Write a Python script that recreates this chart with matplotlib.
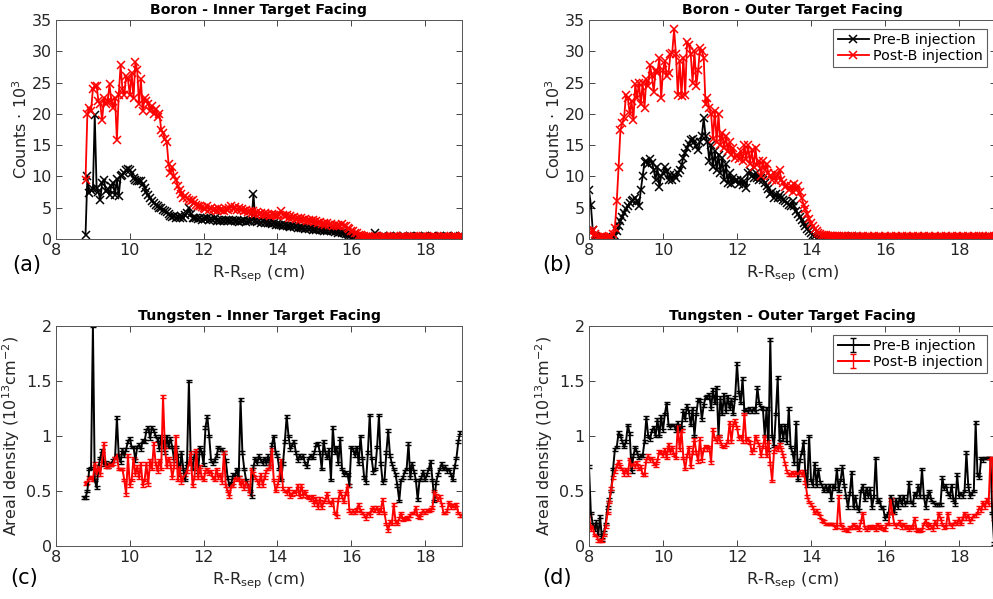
import numpy as np
import matplotlib
matplotlib.use("Agg")
import matplotlib.pyplot as plt

# ---------------- data ----------------
step = 0.05

# Panel (a): Boron - Inner Target Facing (counts x 10^3), x starts at 8.8
a_start = 8.8
a_pre = [0.7, 10.0, 7.3, 7.8, 8.0, 19.8, 8.2, 7.5, 6.2, 9.0,
         9.5, 7.6, 8.0, 7.0, 8.5, 9.0, 7.0, 9.6, 6.8, 10.0,
         10.2, 10.6, 11.0, 11.2, 11.0, 10.5, 9.8, 9.5, 9.2, 9.3,
         9.2, 8.8, 8.2, 7.5, 7.0, 6.5, 6.0, 5.8, 5.5, 5.3,
         5.0, 4.9, 4.6, 4.5, 4.3, 4.0, 3.7, 3.5, 3.6, 3.4,
         3.5, 3.4, 3.6, 3.3, 3.8, 4.2, 5.0, 4.0, 3.4, 3.3,
         3.3, 3.2, 3.4, 3.1, 3.3, 3.2, 3.4, 3.0, 3.2, 3.1,
         3.3, 2.9, 3.1, 2.8, 3.0, 2.9, 3.1, 2.8, 3.0, 2.9,
         3.1, 2.8, 2.9, 2.7, 2.9, 2.8, 3.0, 2.7, 2.9, 2.8,
         3.0, 7.2, 2.9, 2.7, 2.8, 2.6, 2.8, 2.6, 2.7, 2.5,
         2.6, 2.4, 2.5, 2.3, 2.4, 2.2, 2.3, 2.1, 2.2, 2.0,
         2.1, 1.9, 2.0, 1.9, 2.0, 1.8, 1.9, 1.7, 1.8, 1.6,
         1.7, 1.6, 1.7, 1.5, 1.6, 1.5, 1.6, 1.4, 1.5, 1.3,
         1.4, 1.3, 1.4, 1.2, 1.3, 1.1, 1.2, 1.0, 1.1, 0.9,
         1.0, 0.8, 0.8, 0.6, 0.6, 0.5, 0.4, 0.3, 0.2, 0.15,
         0.1, 0.1, 0.05, 0.1, 0.1, 0.2, 0.3, 1.0, 0.4, 0.3,
         0.2, 0.4, 0.3, 0.2, 0.3, 0.4, 0.2, 0.3, 0.3, 0.4,
         0.2, 0.3, 0.4, 0.3, 0.2, 0.3, 0.4, 0.3, 0.2, 0.3,
         0.4, 0.3, 0.3, 0.2, 0.4, 0.3, 0.2, 0.3, 0.4, 0.3,
         0.2, 0.3, 0.4, 0.3, 0.3, 0.2, 0.4, 0.3, 0.2, 0.3,
         0.4, 0.3, 0.3, 0.4, 0.3]
a_post = [9.5, 20.0, 21.0, 20.5, 24.0, 24.5, 24.5, 22.0, 21.5, 19.0,
          22.5, 21.5, 22.0, 24.7, 22.0, 21.0, 22.5, 15.8, 23.0, 27.8,
          24.0, 23.0, 26.0, 25.5, 23.0, 26.5, 22.5, 28.3, 27.0, 21.5,
          25.5, 20.5, 22.5, 22.0, 21.5, 20.5, 21.2, 20.0, 20.8, 19.5,
          20.0, 17.5, 17.0, 16.0, 15.5, 12.0, 10.5, 11.5, 10.0, 9.5,
          8.5, 7.8, 7.2, 6.5, 6.8, 6.5, 6.3, 6.0, 6.2, 5.8,
          5.5, 5.3, 5.2, 5.1, 5.0, 4.8, 5.2, 4.7, 4.9, 4.6,
          4.8, 4.5, 4.9, 4.6, 4.7, 4.5, 4.8, 4.6, 5.0, 5.3,
          4.8, 5.1, 4.7, 4.9, 4.6, 4.8, 4.4, 4.6, 4.3, 4.5,
          4.2, 4.4, 4.0, 4.3, 4.0, 4.2, 3.9, 4.1, 3.8, 4.0,
          3.7, 4.0, 3.8, 3.9, 3.6, 3.9, 4.4, 3.8, 3.6, 3.8,
          3.4, 3.6, 3.3, 3.5, 3.2, 3.4, 3.1, 3.3, 3.0, 3.2,
          2.9, 3.1, 2.8, 3.0, 2.7, 2.9, 2.6, 2.7, 2.4, 2.6,
          2.3, 2.5, 2.2, 2.4, 2.1, 2.3, 2.0, 2.3, 2.1, 2.4,
          2.0, 2.1, 1.7, 1.6, 1.3, 1.2, 0.9, 0.9, 0.6, 0.6,
          0.4, 0.4, 0.3, 0.3, 0.3, 0.2, 0.3, 0.4, 0.3, 0.2,
          0.3, 0.3, 0.4, 0.3, 0.2, 0.3, 0.3, 0.4, 0.3, 0.3,
          0.2, 0.3, 0.4, 0.3, 0.3, 0.2, 0.3, 0.3, 0.4, 0.3,
          0.3, 0.2, 0.3, 0.4, 0.3, 0.3, 0.2, 0.3, 0.3, 0.4,
          0.3, 0.3, 0.2, 0.3, 0.4, 0.3, 0.3, 0.2, 0.3, 0.3,
          0.4, 0.3, 0.3, 0.3, 0.4]

# Panel (b): Boron - Outer Target Facing, x starts at 8.0
b_start = 8.0
b_pre = [7.8, 5.5, 1.5, 0.5, 0.3, 0.2, 0.2, 0.1, 0.2, 0.1,
         0.2, 0.1, 0.2, 0.3, 0.5, 1.2, 2.0, 2.8, 3.5, 4.2,
         4.8, 5.2, 5.8, 6.0, 6.3, 6.5, 6.0, 5.2, 7.8, 10.0,
         12.3, 12.5, 12.0, 12.8, 12.2, 11.0, 9.5, 11.5, 8.3, 10.0,
         10.5, 11.5, 10.8, 9.5, 10.2, 9.5, 10.2, 9.8, 10.5, 11.0,
         11.8, 13.0, 13.8, 14.5, 15.2, 15.8, 16.0, 15.5, 14.8, 14.2,
         15.5, 16.5, 19.3, 16.5, 15.5, 12.5, 15.0, 11.5, 14.0, 11.0,
         13.5, 10.5, 13.0, 9.5, 12.0, 9.0, 10.5, 8.8, 9.8, 9.2,
         9.5, 8.8, 9.5, 8.7, 9.2, 8.2, 10.5, 10.8, 10.0, 9.8,
         10.5, 9.8, 9.5, 9.8, 9.5, 9.0, 8.5, 8.0, 7.2, 7.5,
         6.5, 7.2, 6.5, 7.0, 6.5, 6.3, 6.0, 5.8, 5.5, 5.2,
         6.0, 5.2, 4.5, 4.0, 3.5, 3.0, 2.5, 2.0, 1.6, 1.2,
         0.9, 0.7, 0.4, 0.2, 0.1, 0.1, 0.05, 0.05, 0.1, 0.1,
         0.1, 0.15, 0.1, 0.2, 0.15, 0.2, 0.2, 0.25, 0.2, 0.3,
         0.3, 0.3, 0.5, 0.3, 0.3, 0.2, 0.3, 0.2, 0.3, 0.2,
         0.2, 0.3, 0.2, 0.2, 0.3, 0.2, 0.2, 0.3, 0.2, 0.2,
         0.3, 0.2, 0.2, 0.3, 0.2, 0.2, 0.3, 0.2, 0.2, 0.3,
         0.2, 0.2, 0.3, 0.2, 0.2, 0.3, 0.2, 0.2, 0.3, 0.2,
         0.2, 0.3, 0.2, 0.2, 0.3, 0.2, 0.2, 0.3, 0.2, 0.2,
         0.3, 0.2, 0.2, 0.3, 0.2, 0.2, 0.3, 0.2, 0.2, 0.3,
         0.2, 0.2, 0.3, 0.2, 0.2, 0.3, 0.2, 0.2, 0.3, 0.2,
         0.2, 0.3, 0.2, 0.3, 0.2, 0.2, 0.3, 0.2, 0.3, 0.2,
         0.3]
b_post = [1.3, 1.0, 1.5, 0.8, 0.5, 0.3, 0.3, 0.2, 0.3, 0.2,
          0.3, 0.4, 0.3, 0.8, 1.8, 6.0, 11.5, 17.5, 18.5, 19.5,
          23.0, 22.5, 20.0, 22.0, 19.0, 24.8, 22.5, 25.0, 21.5, 25.0,
          21.0, 25.5, 24.5, 27.8, 26.0, 23.5, 27.0, 26.5, 29.0, 22.5,
          27.0, 28.5, 26.0, 26.5, 29.5, 29.8, 33.5, 29.5, 23.0, 28.5,
          22.8, 29.0, 23.0, 31.5, 31.0, 29.5, 25.0, 30.0, 24.5, 27.0,
          30.5, 30.0, 29.0, 21.5, 22.5, 21.0, 20.0, 16.0, 20.5, 15.5,
          20.0, 15.0, 17.0, 14.5, 16.5, 14.0, 15.5, 13.5, 14.5, 13.0,
          13.5, 12.8, 14.0, 12.5, 15.0, 12.8, 15.0, 12.0, 14.2, 11.5,
          14.5, 11.8, 12.5, 10.0, 12.5, 11.0, 12.0, 10.5, 10.0, 9.5,
          10.5, 9.3, 10.2, 11.0, 9.5, 9.0, 8.3, 8.7, 7.8, 8.5,
          7.5, 8.8, 7.8, 8.5, 7.5, 6.5, 5.5, 4.8, 4.0, 3.2,
          2.5, 2.0, 1.6, 1.3, 1.0, 0.8, 0.7, 0.6, 0.6, 0.5,
          0.5, 0.5, 0.4, 0.5, 0.4, 0.4, 0.3, 0.4, 0.4, 0.3,
          0.4, 0.3, 0.4, 0.3, 0.3, 0.4, 0.3, 0.3, 0.4, 0.3,
          0.3, 0.4, 0.3, 0.3, 0.4, 0.3, 0.3, 0.4, 0.3, 0.3,
          0.4, 0.3, 0.3, 0.4, 0.3, 0.3, 0.4, 0.3, 0.3, 0.4,
          0.3, 0.3, 0.4, 0.3, 0.3, 0.4, 0.3, 0.3, 0.4, 0.3,
          0.3, 0.4, 0.3, 0.3, 0.4, 0.3, 0.3, 0.4, 0.3, 0.3,
          0.4, 0.3, 0.3, 0.4, 0.3, 0.3, 0.4, 0.3, 0.3, 0.4,
          0.3, 0.3, 0.4, 0.3, 0.3, 0.4, 0.3, 0.3, 0.4, 0.3,
          0.3, 0.4, 0.3, 0.4, 0.3, 0.3, 0.4, 0.3, 0.3, 0.4,
          0.3]

# Panel (c): Tungsten - Inner Target Facing (10^13 cm^-2)
c_pre_start = 8.75
c_pre = [0.44, 0.44, 0.50, 0.70, 0.71, 2.00, 0.60, 0.53, 0.72, 0.80,
         0.87, 0.74, 0.76, 0.72, 0.74, 0.75, 0.78, 0.80, 1.17, 0.82,
         0.76, 0.88, 0.82, 0.88, 0.95, 0.98, 0.90, 0.90, 0.78, 0.90,
         0.92, 0.88, 0.96, 0.95, 1.05, 1.08, 0.98, 1.08, 1.05, 1.00,
         0.97, 0.88, 1.00, 0.95, 0.85, 1.00, 0.90, 0.98, 0.90, 0.78,
         0.90, 0.82, 0.65, 0.85, 0.70, 0.60, 0.75, 1.50, 0.80, 0.70,
         0.82, 0.85, 0.68, 0.90, 0.85, 0.74, 1.08, 1.18, 1.00, 0.78,
         0.75, 0.78, 0.82, 0.90, 0.88, 0.88, 0.85, 0.78, 0.62, 0.55,
         0.57, 0.65, 0.63, 0.70, 0.62, 1.33, 0.85, 0.70, 0.60, 0.55,
         0.50, 0.45, 0.72, 0.80, 0.75, 0.82, 0.78, 0.75, 0.80, 0.75,
         0.82, 0.72, 0.92, 1.00, 0.85, 0.82, 0.70, 0.60, 0.75, 0.95,
         1.18, 1.00, 0.88, 0.92, 0.95, 0.85, 0.78, 0.82, 0.80, 0.82,
         0.75, 0.72, 0.80, 0.82, 0.80, 0.85, 0.92, 0.93, 0.85, 0.70,
         0.95, 0.85, 0.80, 0.88, 0.60, 1.08, 0.85, 0.90, 0.75, 0.98,
         0.70, 0.65, 0.67, 0.65, 0.55, 0.90, 0.88, 0.82, 0.90, 0.75,
         1.00, 0.80, 0.62, 0.58, 0.85, 1.19, 0.80, 0.67, 0.70, 0.90,
         1.19, 0.75, 0.58, 0.60, 0.85, 1.05, 0.82, 0.75, 0.70, 0.65,
         0.55, 0.41, 0.60, 0.62, 0.68, 0.70, 0.93, 0.62, 0.75, 0.68,
         0.60, 0.42, 0.60, 0.62, 0.68, 0.60, 0.65, 0.70, 0.77, 0.60,
         0.41, 0.58, 0.65, 0.70, 0.75, 0.70, 0.72, 0.68, 0.70, 0.65,
         0.60, 0.72, 0.80, 0.95, 1.03]
c_post_start = 8.8
c_post = [0.57, 0.58, 0.62, 0.62, 0.60, 0.75, 0.65, 0.72, 0.65, 0.78,
          0.93, 0.72, 0.72, 0.74, 0.74, 0.75, 0.80, 0.82, 0.70, 0.70,
          0.70, 0.60, 0.47, 0.82, 0.55, 0.60, 0.80, 0.65, 0.72, 0.62,
          0.75, 0.55, 0.60, 0.75, 0.56, 0.78, 0.70, 0.93, 0.75, 0.68,
          0.78, 0.70, 1.36, 0.90, 0.72, 0.80, 0.75, 0.62, 0.72, 1.00,
          0.60, 0.72, 0.58, 0.62, 0.65, 0.68, 0.75, 0.85, 0.55, 0.62,
          0.87, 0.62, 0.72, 0.62, 0.60, 0.68, 0.70, 0.66, 0.68, 0.62,
          0.60, 0.70, 0.62, 0.65, 0.58, 0.85, 0.55, 0.50, 0.45, 0.55,
          0.55, 0.62, 0.60, 0.62, 0.55, 0.60, 0.52, 0.58, 0.55, 0.48,
          0.70, 0.66, 0.62, 0.60, 0.55, 0.65, 0.55, 0.62, 0.68, 0.70,
          0.72, 0.88, 0.60, 0.50, 0.55, 0.62, 0.78, 0.52, 0.50, 0.48,
          0.52, 0.45, 0.47, 0.50, 0.48, 0.55, 0.45, 0.55, 0.46, 0.50,
          0.45, 0.44, 0.42, 0.45, 0.38, 0.43, 0.35, 0.43, 0.35, 0.40,
          0.42, 0.48, 0.40, 0.38, 0.42, 0.30, 0.27, 0.42, 0.50, 0.45,
          0.40, 0.48, 0.55, 0.32, 0.30, 0.32, 0.30, 0.33, 0.38, 0.32,
          0.30, 0.28, 0.25, 0.30, 0.28, 0.33, 0.35, 0.32, 0.35, 0.30,
          0.33, 0.42, 0.30, 0.20, 0.14, 0.22, 0.20, 0.38, 0.22, 0.20,
          0.25, 0.30, 0.24, 0.25, 0.26, 0.25, 0.28, 0.30, 0.30, 0.35,
          0.27, 0.26, 0.30, 0.32, 0.30, 0.32, 0.32, 0.33, 0.35, 0.50,
          0.46, 0.42, 0.45, 0.38, 0.30, 0.30, 0.32, 0.40, 0.35, 0.37,
          0.35, 0.38, 0.30, 0.28, 0.28]

# Panel (d): Tungsten - Outer Target Facing, x starts at 8.0
d_start = 8.0
d_pre = [0.72, 0.30, 0.20, 0.15, 0.22, 0.10, 0.27, 0.06, 0.12, 0.20,
         0.35, 0.42, 0.50, 0.70, 0.88, 0.90, 1.03, 1.00, 0.95, 0.90,
         0.95, 1.10, 1.02, 0.68, 0.82, 0.90, 0.85, 0.80, 0.82, 0.82,
         0.95, 1.17, 1.00, 0.97, 1.05, 1.08, 1.00, 1.15, 1.00, 1.18,
         1.05, 1.20, 1.30, 1.10, 1.08, 1.10, 1.10, 1.05, 1.12, 1.05,
         1.08, 1.23, 1.15, 1.28, 1.22, 1.10, 1.25, 1.00, 1.20, 1.33,
         1.32, 1.15, 1.28, 1.35, 1.36, 1.38, 1.25, 1.42, 1.30, 1.44,
         1.00, 1.35, 1.20, 1.38, 1.22, 1.36, 1.25, 1.33, 1.20, 1.35,
         1.66, 1.40, 1.30, 1.52, 1.22, 1.24, 1.22, 1.25, 1.22, 1.25,
         1.22, 1.44, 1.30, 1.26, 1.25, 1.00, 1.25, 0.88, 1.88, 1.00,
         0.91, 1.20, 1.53, 0.95, 1.10, 0.97, 1.10, 0.94, 1.25, 0.90,
         0.85, 0.75, 1.12, 0.60, 0.78, 0.85, 0.95, 0.65, 0.55, 1.00,
         0.60, 0.55, 0.75, 0.55, 0.70, 0.58, 0.55, 0.50, 0.55, 0.50,
         0.55, 0.42, 0.55, 0.52, 0.70, 0.50, 0.60, 0.72, 0.55, 0.45,
         0.35, 0.48, 0.67, 0.35, 0.45, 0.35, 0.32, 0.50, 0.55, 0.42,
         0.52, 0.45, 0.52, 0.35, 0.45, 0.80, 0.40, 0.42, 0.35, 0.35,
         0.25, 0.28, 0.30, 0.45, 0.42, 0.30, 0.42, 0.35, 0.45, 0.38,
         0.45, 0.38, 0.40, 0.58, 0.40, 0.38, 0.48, 0.45, 0.55, 0.45,
         0.70, 0.45, 0.35, 0.45, 0.50, 0.42, 0.40, 0.38, 0.38, 0.38,
         0.38, 0.62, 0.52, 0.55, 0.48, 0.45, 0.55, 0.42, 0.38, 0.65,
         0.45, 0.48, 0.45, 0.50, 0.85, 0.55, 0.45, 0.48, 0.50, 1.12,
         0.65, 0.62, 0.80, 0.78, 0.80, 0.80, 0.80, 0.80, 0.30, 0.02]
d_post = [0.28, 0.15, 0.18, 0.10, 0.10, 0.05, 0.05, 0.05, 0.10, 0.18,
          0.30, 0.40, 0.52, 0.62, 0.68, 0.73, 0.77, 0.72, 0.70, 0.65,
          0.70, 0.65, 0.79, 0.72, 0.75, 0.72, 0.76, 0.70, 0.72, 0.65,
          0.65, 0.78, 0.82, 0.78, 0.80, 0.75, 0.73, 0.78, 0.86, 0.85,
          0.82, 0.88, 0.80, 0.92, 0.85, 0.90, 0.83, 0.80, 1.09, 0.88,
          1.05, 0.80, 0.70, 0.82, 0.90, 0.72, 0.85, 0.97, 0.85, 0.77,
          0.98, 0.78, 0.88, 0.91, 0.88, 0.90, 0.76, 1.06, 0.98, 0.95,
          1.00, 0.95, 0.91, 0.90, 0.92, 0.95, 1.12, 0.95, 1.10, 1.14,
          1.08, 0.98, 1.00, 0.95, 1.20, 0.95, 0.98, 0.94, 0.85, 0.88,
          1.00, 0.95, 0.92, 0.82, 0.90, 1.00, 0.82, 0.95, 0.75, 0.59,
          0.86, 0.90, 0.88, 0.92, 0.88, 0.82, 0.75, 0.68, 0.65, 0.65,
          0.67, 0.65, 0.67, 0.65, 0.68, 0.65, 0.68, 0.58, 0.45, 0.40,
          0.38, 0.35, 0.30, 0.32, 0.30, 0.27, 0.23, 0.22, 0.20, 0.20,
          0.20, 0.20, 0.20, 0.17, 0.18, 0.45, 0.20, 0.17, 0.15, 0.15,
          0.14, 0.17, 0.17, 0.20, 0.18, 0.17, 0.15, 0.22, 0.30, 0.17,
          0.15, 0.17, 0.18, 0.17, 0.18, 0.15, 0.20, 0.17, 0.18, 0.16,
          0.15, 0.20, 0.20, 0.42, 0.30, 0.20, 0.18, 0.20, 0.22, 0.17,
          0.20, 0.17, 0.18, 0.15, 0.17, 0.18, 0.25, 0.15, 0.14, 0.14,
          0.15, 0.20, 0.23, 0.17, 0.20, 0.18, 0.15, 0.22, 0.18, 0.30,
          0.25, 0.20, 0.17, 0.18, 0.30, 0.20, 0.18, 0.20, 0.22, 0.20,
          0.25, 0.20, 0.25, 0.30, 0.25, 0.28, 0.22, 0.25, 0.28, 0.28,
          0.30, 0.35, 0.32, 0.40, 0.35, 0.42, 0.38, 0.80, 0.80, 0.25]
w_err = 0.012

titles = ["Boron - Inner Target Facing", "Boron - Outer Target Facing",
          "Tungsten - Inner Target Facing", "Tungsten - Outer Target Facing"]
panel_tags = ["(a)", "(b)", "(c)", "(d)"]
legend_labels = ["Pre-B injection", "Post-B injection"]
xticks = [8, 10, 12, 14, 16, 18]
b_yticks = [0, 5, 10, 15, 20, 25, 30, 35]
w_yticks = [0, 0.5, 1, 1.5, 2]
w_yticklabels = ["0", "0.5", "1", "1.5", "2"]


def xs(start, vals):
    return np.round(start + step * np.arange(len(vals)), 3)


# ---------------- figure ----------------
plt.rcParams['font.family'] = ['DejaVu Sans']
fig = plt.figure(figsize=(9.93, 5.99), dpi=100)
W, H = 993, 599
tc = '#262626'


def add_ax(l, t, r, b):
    return fig.add_axes([l / W, 1 - b / H, (r - l) / W, (b - t) / H])


ax_a = add_ax(56, 20, 462, 239)
ax_b = add_ax(589, 20, 996, 239)
ax_c = add_ax(56, 326, 462, 546)
ax_d = add_ax(589, 326, 996, 546)
axes = [ax_a, ax_b, ax_c, ax_d]

mk = dict(marker='x', markersize=5.5, markeredgewidth=1.1, linewidth=1.3)
ax_a.plot(xs(a_start, a_pre), a_pre, color='k', label=legend_labels[0], **mk)
ax_a.plot(xs(a_start, a_post), a_post, color='#ff0000', label=legend_labels[1], **mk)
ax_b.plot(xs(b_start, b_pre), b_pre, color='k', label=legend_labels[0], **mk)
ax_b.plot(xs(b_start, b_post), b_post, color='#ff0000', label=legend_labels[1], **mk)

eb = dict(linewidth=1.4, elinewidth=1.0, capsize=2.5, capthick=1.0)
ax_c.errorbar(xs(c_pre_start, c_pre), c_pre, yerr=w_err, color='k', label=legend_labels[0], **eb)
ax_c.errorbar(xs(c_post_start, c_post), c_post, yerr=w_err, color='#ff0000', label=legend_labels[1], **eb)
ax_d.errorbar(xs(d_start, d_pre), d_pre, yerr=w_err, color='k', label=legend_labels[0], **eb)
ax_d.errorbar(xs(d_start, d_post), d_post, yerr=w_err, color='#ff0000', label=legend_labels[1], **eb)

for i, ax in enumerate(axes):
    ax.set_xlim(8, 19)
    ax.set_xticks(xticks)
    if i < 2:
        ax.set_ylim(0, 35)
        ax.set_yticks(b_yticks)
        ax.set_ylabel(r"Counts $\cdot$ 10$^3$", fontsize=11.5, color=tc, labelpad=1)
    else:
        ax.set_ylim(0, 2)
        ax.set_yticks(w_yticks)
        ax.set_yticklabels(w_yticklabels)
        ax.set_ylabel(r"Areal density (10$^{13}$cm$^{-2}$)", fontsize=11.5, color=tc, labelpad=3)
    ax.set_xlabel(r"R-R$_{\rm sep}$ (cm)", fontsize=11.8, color=tc, labelpad=3.5)
    ax.set_title(titles[i], fontsize=10.2, fontweight='bold', color='k', pad=4)
    ax.tick_params(direction='in', top=True, right=True, length=4, width=0.6,
                   colors=tc, labelsize=11.5, pad=3)
    for s in ax.spines.values():
        s.set_color('#555555')
        s.set_linewidth(0.7)

leg_kw = dict(loc='upper right', fontsize=10.3, frameon=True, fancybox=False,
              edgecolor='#333333', borderpad=0.3, labelspacing=0.15,
              handlelength=2.2, handletextpad=0.3, borderaxespad=0.6)
lg = ax_b.legend(**leg_kw)
lg.get_frame().set_linewidth(0.8)
lg = ax_d.legend(**leg_kw)
lg.get_frame().set_linewidth(0.8)

tag_pos = [(12, 265), (542, 265), (10, 578), (542, 578)]
for t, (px, py) in zip(panel_tags, tag_pos):
    fig.text(px / W, 1 - py / H, t, fontsize=15, color='k', ha='left', va='center')

fig.savefig("out.png", dpi=100)
